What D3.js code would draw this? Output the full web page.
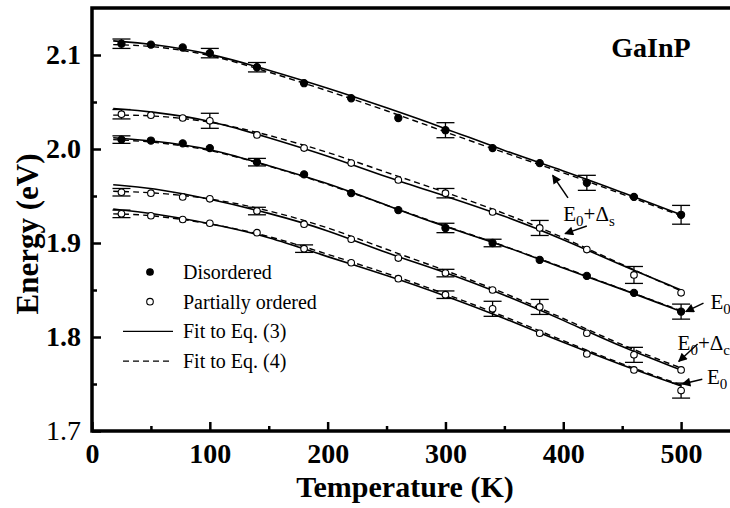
<!DOCTYPE html>
<html>
<head>
<meta charset="utf-8">
<script src="https://cdn.jsdelivr.net/npm/d3@7"></script>
<style>
  body { margin: 0; background: #fff; }
  svg text { font-family: "Liberation Serif", "Times New Roman", serif; fill: #000; }
</style>
</head>
<body>
<div id="chart"></div>
<script>
// measured temperatures (K)
var temps = [25, 50, 77, 100, 140, 180, 220, 260, 300, 340, 380, 420, 460, 500];

// data points (eV)
var disEs = [2.112, 2.111, 2.108, 2.102, 2.087, 2.070, 2.054, 2.033, 2.020, 2.001, 1.985, 1.964, 1.949, 1.930];
var parEs = [2.037, 2.036, 2.033, 2.030, 2.015, 2.001, 1.985, 1.967, 1.953, 1.933, 1.916, 1.893, 1.866, 1.847];
var disE0 = [2.010, 2.009, 2.006, 2.001, 1.986, 1.973, 1.953, 1.935, 1.916, 1.900, 1.882, 1.865, 1.847, 1.827];
var parEc = [1.954, 1.953, 1.949, 1.947, 1.934, 1.920, 1.904, 1.884, 1.868, 1.850, 1.832, 1.804, 1.781, 1.765];
var parE0 = [1.931, 1.929, 1.925, 1.921, 1.911, 1.894, 1.879, 1.862, 1.845, 1.830, 1.804, 1.782, 1.765, 1.743];

// error bars [T, half width]
var errDisEs = [[25, .005], [100, .005], [140, .005], [300, .008], [420, .008], [500, .010]];
var errParEs = [[25, .005], [100, .008], [300, .005], [380, .008], [460, .009]];
var errDisE0 = [[25, .004], [140, .004], [300, .005], [340, .004], [500, .008]];
var errParEc = [[25, .004], [140, .004], [300, .004], [380, .008], [460, .008]];
var errParE0 = [[25, .004], [180, .004], [300, .004], [340, .008], [500, .008]];

// fit curves
var fitTemps = [18, 50, 100, 150, 200, 250, 300, 350, 400, 450, 500];
var fit3DisEs = [2.115, 2.112, 2.102, 2.084, 2.065, 2.044, 2.022, 1.998, 1.977, 1.954, 1.930];
var fit4DisEs = [2.111, 2.110, 2.101, 2.082, 2.062, 2.041, 2.018, 1.996, 1.975, 1.952, 1.929];
var fit3ParEs = [2.043, 2.040, 2.031, 2.012, 1.993, 1.970, 1.950, 1.929, 1.904, 1.876, 1.850];
var fit4ParEs = [2.036, 2.036, 2.030, 2.015, 1.997, 1.975, 1.954, 1.932, 1.906, 1.877, 1.849];
var fit3DisE0 = [2.012, 2.009, 2.001, 1.982, 1.964, 1.940, 1.917, 1.897, 1.873, 1.851, 1.827];
var fit4DisE0 = [2.010, 2.008, 2.000, 1.982, 1.963, 1.940, 1.918, 1.897, 1.874, 1.851, 1.828];
var fit3ParEc = [1.962, 1.959, 1.947, 1.932, 1.914, 1.889, 1.869, 1.845, 1.818, 1.789, 1.765];
var fit4ParEc = [1.955, 1.954, 1.948, 1.935, 1.917, 1.893, 1.871, 1.847, 1.820, 1.791, 1.767];
var fit3ParE0 = [1.936, 1.932, 1.921, 1.907, 1.885, 1.866, 1.844, 1.820, 1.794, 1.770, 1.748];
var fit4ParE0 = [1.931, 1.930, 1.921, 1.908, 1.888, 1.868, 1.846, 1.822, 1.796, 1.771, 1.749];

var xTicks = [0, 100, 200, 300, 400, 500];
var yTicks = [1.7, 1.8, 1.9, 2.0, 2.1];

var width = 730, height = 508;

var svg = d3.select("#chart").append("svg")
    .attr("width", width)
    .attr("height", height);

var x = d3.scaleLinear().domain([0, 550]).range([92, 740]);
var y = d3.scaleLinear().domain([1.7, 2.15]).range([431, 8]);

svg.append("defs").append("marker")
    .attr("id", "arrow")
    .attr("viewBox", "0 0 10 10")
    .attr("refX", 9).attr("refY", 5)
    .attr("markerWidth", 12).attr("markerHeight", 9)
    .attr("markerUnits", "userSpaceOnUse")
    .attr("orient", "auto")
  .append("path")
    .attr("d", "M0,0 L10,5 L0,10 z")
    .attr("fill", "#000");

// axes (ticks pointing inward)
var xAxis = svg.append("g")
    .attr("transform", "translate(0," + y(1.7) + ")")
    .call(d3.axisBottom(x).tickValues(xTicks).tickSize(-9).tickFormat(d3.format("d")));
xAxis.select(".domain").remove();
xAxis.selectAll("line").attr("stroke-width", 2.5);
xAxis.selectAll("text")
    .attr("y", 12).attr("dy", "0.71em")
    .style("font-size", "28px").style("font-weight", "bold");

svg.append("g")
    .attr("transform", "translate(0," + y(1.7) + ")")
    .call(d3.axisBottom(x).tickValues([50, 150, 250, 350, 450]).tickSize(-5).tickFormat(""))
    .call(g => g.select(".domain").remove())
    .selectAll("line").attr("stroke-width", 2.5);

var yAxis = svg.append("g")
    .attr("transform", "translate(" + x(0) + ",0)")
    .call(d3.axisLeft(y).tickValues(yTicks).tickSize(-9).tickFormat(d3.format(".1f")));
yAxis.select(".domain").remove();
yAxis.selectAll("line").attr("stroke-width", 2.5);
yAxis.selectAll("text")
    .attr("x", -11)
    .style("font-size", "28px")
    .style("font-weight", d => d === 1.7 ? "normal" : "bold");

svg.append("g")
    .attr("transform", "translate(" + x(0) + ",0)")
    .call(d3.axisLeft(y).tickValues([1.75, 1.85, 1.95, 2.05]).tickSize(-5).tickFormat(""))
    .call(g => g.select(".domain").remove())
    .selectAll("line").attr("stroke-width", 2.5);

// frame: left, bottom, top
svg.append("path")
    .attr("d", "M" + x(550) + "," + y(2.15) + "H" + x(0) + "V" + y(1.7) + "H" + x(550))
    .attr("fill", "none").attr("stroke", "#000").attr("stroke-width", 3.5);

// axis titles
svg.append("text")
    .attr("x", 405).attr("y", 497)
    .attr("text-anchor", "middle")
    .style("font-size", "30px").style("font-weight", "bold")
    .text("Temperature (K)");

svg.append("text")
    .attr("transform", "translate(38," + 234 + ") rotate(-90)")
    .attr("text-anchor", "middle")
    .style("font-size", "31px").style("font-weight", "bold")
    .text("Energy (eV)");

svg.append("text")
    .attr("x", 651).attr("y", 57)
    .attr("text-anchor", "middle")
    .style("font-size", "28px").style("font-weight", "bold")
    .text("GaInP");

// fit curves
var line = d3.line()
    .x((d, i) => x(fitTemps[i]))
    .y(d => y(d))
    .curve(d3.curveBasis);

var fits3 = [fit3DisEs, fit3ParEs, fit3DisE0, fit3ParEc, fit3ParE0];
var fits4 = [fit4DisEs, fit4ParEs, fit4DisE0, fit4ParEc, fit4ParE0];

svg.append("g").selectAll("path")
    .data(fits4)
  .enter().append("path")
    .attr("d", line)
    .attr("fill", "none").attr("stroke", "#000")
    .attr("stroke-width", 1.4)
    .attr("stroke-dasharray", "6,4");

svg.append("g").selectAll("path")
    .data(fits3)
  .enter().append("path")
    .attr("d", line)
    .attr("fill", "none").attr("stroke", "#000")
    .attr("stroke-width", 1.6);

// error bars and points
var seriesInfo = [
  {vals: disEs, err: errDisEs, filled: true},
  {vals: parEs, err: errParEs, filled: false},
  {vals: disE0, err: errDisE0, filled: true},
  {vals: parEc, err: errParEc, filled: false},
  {vals: parE0, err: errParE0, filled: false}
];

seriesInfo.forEach(function(s) {
  var g = svg.append("g").attr("stroke", "#000").attr("stroke-width", 1.3);
  s.err.forEach(function(e) {
    var v = s.vals[temps.indexOf(e[0])];
    var cx = x(e[0]);
    g.append("line").attr("x1", cx).attr("x2", cx).attr("y1", y(v - e[1])).attr("y2", y(v + e[1]));
    g.append("line").attr("x1", cx - 9).attr("x2", cx + 9).attr("y1", y(v - e[1])).attr("y2", y(v - e[1]));
    g.append("line").attr("x1", cx - 9).attr("x2", cx + 9).attr("y1", y(v + e[1])).attr("y2", y(v + e[1]));
  });
  svg.append("g").selectAll("circle")
      .data(s.vals)
    .enter().append("circle")
      .attr("cx", (d, i) => x(temps[i]))
      .attr("cy", d => y(d))
      .attr("r", s.filled ? 3.6 : 3.3)
      .attr("fill", s.filled ? "#000" : "#fff")
      .attr("stroke", "#000")
      .attr("stroke-width", 1.1);
});

// annotations
var notes = [
  {T: 400, E: 1.923, main: "E", sub1: "0", mid: "+Δ", sub2: "s"},
  {T: 525, E: 1.830, main: "E", sub1: "0"},
  {T: 497, E: 1.786, main: "E", sub1: "0", mid: "+Δ", sub2: "c"},
  {T: 522, E: 1.750, main: "E", sub1: "0"}
];
var arrows = [
  [404, 1.948, 391, 1.972],
  [420, 1.918, 401.5, 1.910],
  [519, 1.836, 504, 1.827],
  [514, 1.7925, 498, 1.774],
  [518, 1.755, 501, 1.750]
];

notes.forEach(function(n) {
  var t = svg.append("text")
      .attr("x", x(n.T)).attr("y", y(n.E))
      .style("font-size", "21px");
  t.append("tspan").text(n.main);
  t.append("tspan").attr("dy", 5).style("font-size", "15px").text(n.sub1);
  if (n.mid) {
    t.append("tspan").attr("dy", -5).text(n.mid);
    t.append("tspan").attr("dy", 5).style("font-size", "15px").text(n.sub2);
  }
});

svg.append("g").selectAll("line")
    .data(arrows)
  .enter().append("line")
    .attr("x1", d => x(d[0])).attr("y1", d => y(d[1]))
    .attr("x2", d => x(d[2])).attr("y2", d => y(d[3]))
    .attr("stroke", "#000").attr("stroke-width", 1.5)
    .attr("marker-end", "url(#arrow)");

// legend
var legend = svg.append("g");
var legendRows = [
  {label: "Disordered", kind: "filled"},
  {label: "Partially ordered", kind: "open"},
  {label: "Fit to Eq. (3)", kind: "solid"},
  {label: "Fit to Eq. (4)", kind: "dashed"}
];
legendRows.forEach(function(r, i) {
  var cy = 272 + i * 29.7;
  if (r.kind === "filled" || r.kind === "open") {
    legend.append("circle")
        .attr("cx", 150).attr("cy", cy).attr("r", 3.3)
        .attr("fill", r.kind === "filled" ? "#000" : "#fff")
        .attr("stroke", "#000").attr("stroke-width", 1.1);
  } else {
    legend.append("line")
        .attr("x1", 123).attr("x2", 173).attr("y1", cy).attr("y2", cy)
        .attr("stroke", "#000").attr("stroke-width", 1.3)
        .attr("stroke-dasharray", r.kind === "dashed" ? "6,4" : null);
  }
  legend.append("text")
      .attr("x", 183).attr("y", cy + 7)
      .style("font-size", "20px")
      .text(r.label);
});
</script>
</body>
</html>
